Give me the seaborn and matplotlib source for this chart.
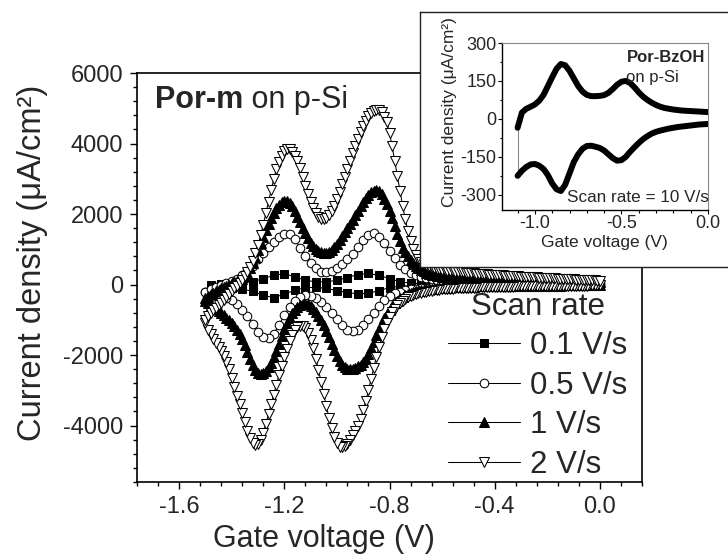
import numpy as np
import pandas as pd
import matplotlib
matplotlib.use("Agg")
import matplotlib.pyplot as plt
from matplotlib.ticker import MultipleLocator, FixedLocator, FuncFormatter
import seaborn as sns

# ---------------- data ----------------
# Voltage sweep grids (V)
V_START, V_END = -1.50, 0.00
V_2 = np.round(np.arange(V_START, V_END + 1e-9, 0.01), 2)   # 2 V/s and 1 V/s sampling
V_05 = np.round(np.arange(V_START, V_END + 1e-9, 0.02), 2)  # 0.5 V/s sampling
V_01 = np.round(np.arange(-1.48, V_END + 1e-9, 0.04), 2)    # 0.1 V/s sampling

scan_labels = ["0.1 V/s", "0.5 V/s", "1 V/s", "2 V/s"]

# 2 V/s, anodic (upper) branch, uA/cm2
j2_up = [-1000, -900, -810, -730, -660, -590, -510, -430, -350, -270,
         -190, -110, -30, 50, 130, 230, 350, 500, 680, 900,
         1130, 1400, 1700, 2020, 2350, 2680, 3000, 3270, 3480, 3650,
         3780, 3850, 3840, 3770, 3660, 3500, 3300, 3060, 2800, 2560,
         2340, 2160, 2020, 1920, 1860, 1850, 1880, 1960, 2080, 2240,
         2420, 2620, 2840, 3060, 3280, 3500, 3720, 3930, 4130, 4320,
         4490, 4640, 4770, 4870, 4930, 4960, 4950, 4880, 4740, 4600,
         4300, 3920, 3500, 3080, 2650, 2230, 1850, 1520, 1240, 1010,
         830, 720, 640, 585, 545, 515, 490, 470, 452, 437,
         423, 410, 398, 387, 377, 367, 358, 350, 342, 335,
         328, 321, 315, 309, 303, 297, 292, 287, 282, 277,
         272, 267, 262, 257, 252, 247, 243, 239, 235, 231,
         227, 223, 219, 215, 211, 207, 203, 199, 195, 191,
         187, 183, 179, 175, 171, 167, 163, 159, 155, 151,
         147, 143, 139, 135, 131, 127, 123, 119, 115, 111,
         107]
# 2 V/s, cathodic (lower) branch
j2_dn = [-1100, -1280, -1410, -1540, -1660, -1770, -1890, -2030, -2200, -2400,
         -2650, -2900, -3150, -3400, -3650, -3900, -4150, -4350, -4500, -4560,
         -4520, -4400, -4200, -3950, -3680, -3400, -3120, -2840, -2560, -2300,
         -2050, -1820, -1600, -1420, -1290, -1210, -1170, -1170, -1230, -1360,
         -1560, -1810, -2100, -2420, -2760, -3100, -3450, -3780, -4080, -4330,
         -4500, -4600, -4620, -4590, -4510, -4400, -4280, -4150, -4000, -3800,
         -3560, -3300, -3000, -2680, -2360, -2050, -1760, -1500, -1270, -1080,
         -920, -790, -680, -590, -515, -455, -405, -365, -330, -300,
         -275, -253, -234, -217, -202, -189, -177, -166, -156, -147,
         -139, -132, -126, -120, -115, -110, -106, -102, -98, -95,
         -92, -89, -87, -85, -83, -81, -79, -77, -75, -73,
         -71, -69, -67, -65, -63, -61, -59, -57, -55, -53,
         -52, -51, -50, -49, -48, -47, -46, -45, -44, -43,
         -42, -41, -40, -39, -38, -37, -36, -35, -34, -33,
         -32, -31, -30, -29, -28, -27, -26, -25, -24, -23,
         -22]
# 1 V/s
j1_up = [-380, -330, -280, -235, -190, -150, -110, -70, -35, 0,
         30, 60, 90, 125, 170, 240, 340, 470, 620, 790,
         980, 1170, 1360, 1550, 1730, 1890, 2030, 2160, 2260, 2340,
         2380, 2370, 2320, 2220, 2080, 1920, 1760, 1600, 1450, 1310,
         1190, 1090, 1010, 950, 910, 890, 895, 930, 990, 1070,
         1160, 1260, 1370, 1480, 1600, 1720, 1840, 1970, 2100, 2230,
         2350, 2460, 2550, 2620, 2660, 2670, 2640, 2560, 2440, 2280,
         2090, 1880, 1660, 1440, 1230, 1040, 920, 800, 700, 615,
         540, 475, 420, 375, 338, 307, 282, 262, 245, 230,
         218, 206, 197, 189, 182, 176, 170, 165, 160, 155,
         151, 147, 143, 139, 136, 133, 130, 127, 124, 122,
         120, 118, 116, 114, 112, 110, 108, 106, 104, 102,
         100, 99, 98, 97, 96, 95, 94, 93, 92, 91,
         90, 89, 88, 87, 86, 85, 84, 83, 82, 81,
         80, 79, 78, 77, 76, 75, 74, 73, 72, 71,
         70]
j1_dn = [-480, -530, -580, -630, -680, -740, -800, -865, -935, -1010,
         -1090, -1180, -1290, -1410, -1550, -1720, -1910, -2110, -2290, -2420,
         -2500, -2530, -2510, -2450, -2350, -2220, -2060, -1880, -1680, -1470,
         -1270, -1090, -940, -820, -720, -640, -580, -545, -540, -560,
         -610, -680, -770, -880, -1010, -1160, -1320, -1500, -1680, -1860,
         -2030, -2170, -2280, -2350, -2390, -2400, -2390, -2360, -2320, -2270,
         -2200, -2100, -1970, -1810, -1630, -1440, -1260, -1100, -960, -830,
         -710, -610, -525, -455, -395, -345, -305, -270, -240, -215,
         -195, -178, -163, -150, -139, -129, -120, -112, -105, -99,
         -93, -88, -84, -80, -76, -73, -70, -67, -64, -62,
         -60, -58, -56, -54, -52, -50, -49, -48, -47, -46,
         -45, -44, -43, -42, -41, -40, -39, -38, -37, -36,
         -35, -34, -33, -33, -32, -32, -31, -31, -30, -30,
         -29, -29, -28, -28, -27, -27, -26, -26, -25, -25,
         -24, -24, -23, -23, -22, -22, -21, -21, -20, -20,
         -20]
# 0.5 V/s
j05_up = [-200, -120, -60, 0, 50, 100, 170, 260, 380, 540,
          720, 900, 1060, 1220, 1350, 1440, 1420, 1290, 1040, 800,
          600, 460, 370, 345, 380, 460, 580, 720, 880, 1060,
          1250, 1400, 1450, 1360, 1180, 960, 740, 560, 430, 340,
          275, 225, 190, 160, 138, 120, 107, 97, 89, 83,
          78, 74, 71, 68, 66, 64, 62, 60, 59, 58,
          57, 56, 55, 54, 53, 52, 51, 50, 49, 48,
          47, 46, 45, 44, 43, 42]
j05_dn = [-220, -260, -300, -340, -390, -450, -550, -720, -900, -1120,
          -1350, -1500, -1530, -1400, -1150, -870, -640, -460, -350, -310,
          -320, -380, -490, -640, -810, -990, -1160, -1280, -1320, -1280,
          -1150, -980, -800, -610, -450, -330, -250, -200, -165, -140,
          -120, -105, -93, -83, -75, -68, -63, -58, -54, -51,
          -48, -46, -44, -42, -40, -38, -37, -36, -35, -34,
          -33, -32, -31, -30, -29, -28, -27, -26, -25, -24,
          -23, -22, -21, -20, -19, -18]
# 0.1 V/s
j01_up = [0, 10, 20, 40, 80, 170, 260, 310, 220, 120,
          80, 80, 120, 200, 285, 315, 260, 170, 80, 40,
          25, 20, 18, 16, 15, 14, 13, 12, 11, 10,
          10, 9, 9, 8, 8, 7, 7, 6]
j01_dn = [-80, -90, -100, -130, -190, -310, -370, -270, -160, -90,
          -80, -110, -170, -230, -260, -250, -170, -90, -50, -35,
          -28, -25, -23, -21, -20, -19, -18, -17, -16, -15,
          -15, -14, -14, -13, -13, -12, -12, -11]

# Inset: Por-BzOH, 10 V/s
V_IN = np.round(np.arange(-1.100, 0.0 + 1e-9, 0.025), 3)
jin_up = [-35, 25, 40, 48, 57, 72, 95, 130, 165, 198,
          217, 212, 190, 160, 130, 108, 95, 90, 90, 91,
          94, 103, 118, 135, 147, 150, 142, 125, 105, 88,
          75, 64, 55, 48, 43, 40, 37, 35, 33, 32,
          31, 30, 29, 28, 27]
jin_dn = [-225, -205, -190, -180, -178, -185, -198, -222, -255, -278,
          -285, -260, -215, -170, -140, -118, -107, -106, -110, -115,
          -125, -140, -155, -165, -163, -150, -130, -112, -95, -80,
          -68, -58, -51, -46, -42, -38, -35, -32, -30, -28,
          -26, -24, -22, -21, -20]

# ---------------- styling ----------------
sns.set_style("ticks")
plt.rcParams['font.family'] = ['Liberation Sans', 'DejaVu Sans']
plt.rcParams['axes.unicode_minus'] = False

W, H = 728, 554
fig = plt.figure(figsize=(W / 100, H / 100), dpi=100)
fig.patch.set_facecolor("white")


def fx(px):
    return px / W


def fy(py):
    return 1 - py / H


def cv_frame(v, lower, upper):
    x = np.concatenate([np.asarray(v)[::-1], np.asarray(v)])
    y = np.concatenate([np.asarray(lower)[::-1], np.asarray(upper)])
    return pd.DataFrame({"V": x, "J": y})


ax = fig.add_axes([fx(137), fy(482), fx(642) - fx(137), fy(73) - fy(482)])
ax.set_facecolor("white")

series = [
    (V_01, j01_dn, j01_up, "s", "black", 5.8),
    (V_05, j05_dn, j05_up, "o", "white", 6.2),
    (V_2, j1_dn, j1_up, "^", "black", 6.8),
    (V_2, j2_dn, j2_up, "v", "white", 7.2),
]
for (v, dn, up, mk, mfc, ms), lab in zip(series, scan_labels):
    df = cv_frame(v, dn, up)
    sns.lineplot(data=df, x="V", y="J", sort=False, estimator=None, ax=ax,
                 color="black", lw=0.75, marker=mk, markersize=ms,
                 markerfacecolor=mfc, markeredgecolor="black",
                 markeredgewidth=0.75, label=lab)

ax.set_xlim(-1.76, 0.16)
ax.set_ylim(-5600, 6000)
ax.xaxis.set_major_locator(FixedLocator([-1.6, -1.2, -0.8, -0.4, 0.0]))
ax.xaxis.set_minor_locator(MultipleLocator(0.08))
ax.xaxis.set_major_formatter(FuncFormatter(lambda v, p: f"{v:.1f}"))
ax.yaxis.set_major_locator(FixedLocator([-4000, -2000, 0, 2000, 4000, 6000]))
ax.yaxis.set_minor_locator(MultipleLocator(400))
ax.yaxis.set_major_formatter(FuncFormatter(lambda v, p: f"{int(round(v))}"))
ax.tick_params(which="both", direction="out", color="black", width=1.0,
               labelsize=17, top=False, right=False)
ax.tick_params(which="major", length=5, pad=5)
ax.tick_params(which="minor", length=3)
for s in ax.spines.values():
    s.set_visible(True)
    s.set_linewidth(1.2)
    s.set_color("black")

ax.set_xlabel("Gate voltage (V)", fontsize=22)
ax.set_ylabel("Current density (\u03bcA/cm\u00b2)", fontsize=23.5)
ax.xaxis.set_label_coords((324 - 137) / 505, (482 - 524) / 409)
ax.yaxis.set_label_coords((48 - 137) / 505, (482 - 263) / 409)
ax.xaxis.label.set_va("top")

t1 = ax.text((155 - 137) / 505, (482 - 115) / 409, "Por-m", transform=ax.transAxes,
             fontsize=22, fontweight="bold", va="bottom", ha="left")
ax.annotate(" on p-Si", xy=(1, 0), xycoords=t1, fontsize=22,
            va="bottom", ha="left")

handles, labels = ax.get_legend_handles_labels()
leg = ax.legend(handles, labels, title="Scan rate", loc="upper left",
                bbox_to_anchor=(fx(448), fy(292)), bbox_transform=fig.transFigure,
                frameon=False, fontsize=22.5, title_fontsize=22.5,
                handlelength=2.3, handletextpad=0.32, labelspacing=0.30,
                borderpad=0, borderaxespad=0, numpoints=1)

# ---------------- inset ----------------
bg = fig.add_axes([fx(420), fy(267), 0.5, fy(12) - fy(267)])
bg.set_facecolor("white")
bg.set_xticks([])
bg.set_yticks([])
for k, s in bg.spines.items():
    s.set_linewidth(1.0)
    s.set_color("#222222")
bg.spines["right"].set_visible(False)

ins = fig.add_axes([fx(502), fy(210), fx(708) - fx(502), fy(43) - fy(210)])
ins.set_facecolor("white")
ins.plot([V_IN[0], V_IN[0]], [jin_dn[0], jin_up[0]], color="#888888", lw=0.8)
sns.lineplot(x=V_IN, y=jin_dn, sort=False, estimator=None, ax=ins,
             color="black", lw=4.3)
sns.lineplot(x=V_IN, y=jin_up, sort=False, estimator=None, ax=ins,
             color="black", lw=4.3)
ins.set_xlim(-1.19, 0.0)
ins.set_ylim(-360, 300)
ins.xaxis.set_major_locator(FixedLocator([-1.0, -0.5, 0.0]))
ins.xaxis.set_minor_locator(MultipleLocator(0.1))
ins.xaxis.set_major_formatter(FuncFormatter(lambda v, p: f"{v:.1f}"))
ins.yaxis.set_major_locator(FixedLocator([-300, -150, 0, 150, 300]))
ins.yaxis.set_minor_locator(MultipleLocator(75))
ins.yaxis.set_major_formatter(FuncFormatter(lambda v, p: f"{int(round(v))}"))
ins.tick_params(which="both", direction="out", color="black", width=0.8,
                labelsize=13, top=False, right=False)
ins.tick_params(which="major", length=3, pad=1)
ins.tick_params(axis="x", which="major", pad=0.5)
ins.tick_params(which="minor", length=1.8)
ins.spines["left"].set_linewidth(1.0)
ins.spines["bottom"].set_linewidth(1.0)
ins.spines["left"].set_color("black")
ins.spines["bottom"].set_color("black")
ins.spines["top"].set_color("#888888")
ins.spines["right"].set_color("#888888")
ins.spines["top"].set_linewidth(0.8)
ins.spines["right"].set_linewidth(0.8)
ins.set_xlabel("Gate voltage (V)", fontsize=12.5)
ins.set_ylabel("Current density (\u03bcA/cm\u00b2)", fontsize=12.5)
ins.xaxis.set_label_coords(0.495, -0.15)
ins.xaxis.label.set_va("top")
ins.yaxis.set_label_coords(-0.218, 0.587)
if ins.get_legend() is not None:
    ins.get_legend().remove()

ins.text(0.985, 0.886, "Por-BzOH", transform=ins.transAxes, fontsize=12,
         fontweight="bold", ha="right", va="baseline")
ins.text(0.602, 0.766, "on p-Si", transform=ins.transAxes, fontsize=12,
         ha="left", va="baseline")
ins.text(0.316, 0.048, "Scan rate = 10 V/s", transform=ins.transAxes,
         fontsize=12.3, ha="left", va="baseline")

fig.savefig("out.png", dpi=100, facecolor="white")
